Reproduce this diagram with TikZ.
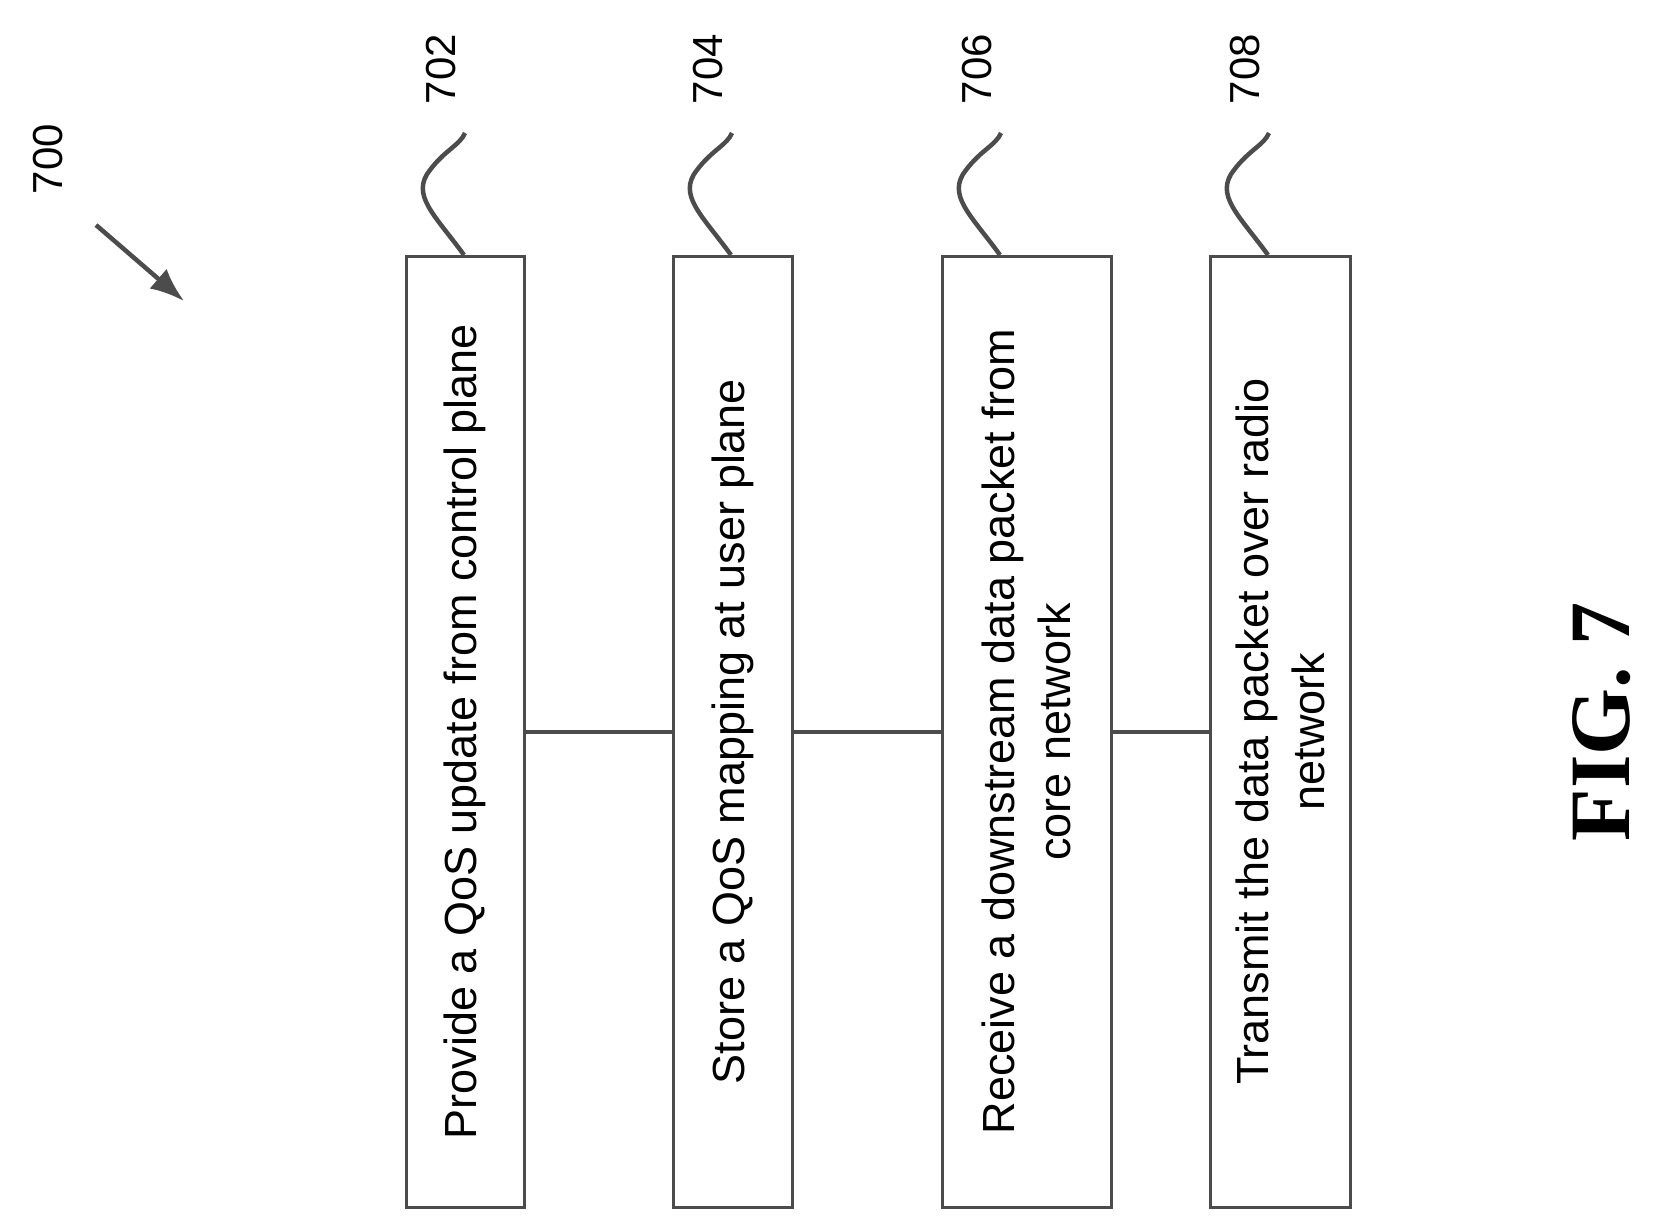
\documentclass[tikz,border=0pt]{standalone}
\usepackage{fontspec}
\usetikzlibrary{arrows.meta}
\setmainfont{Liberation Sans}
\newfontfamily\figfont{Liberation Serif}
\begin{document}
\begin{tikzpicture}[x=1pt,y=-1pt,
  box/.style={draw=black!70,line width=2.5pt,minimum width=#1,minimum height=951pt,inner sep=0pt,anchor=north west},
  txt/.style={rotate=90,font=\fontsize{45}{56}\selectfont,align=center},
  conn/.style={draw=black!70,line width=4.5pt},
  lbl/.style={rotate=90,font=\fontsize{42}{46}\selectfont}]
\useasboundingbox (0,0) rectangle (1657,1224);
\foreach \n/\xl/\w/\lab in {a/405/118/702,b/672/119/704,c/941/169/706,d/1209/140/708}{
  \node[box=\w] (\n) at (\xl,255) {};
  \coordinate (\n s) at (\xl+59,255);
  \coordinate (\n e) at (\xl+60,133);
  \draw[conn] (\n s) .. controls (\xl+30,215) and (\xl+5,195) .. (\xl+25,170) .. controls (\xl+40,150) and (\xl+55,145) .. (\n e);
  \node[lbl] (\n l) at (\xl+36,69) {\lab};
}
\node[txt] at (a.center) {Provide a QoS update from control plane};
\node[txt] at (b.center) {Store a QoS mapping at user plane};
\node[txt] at (c.center) {Receive a downstream data packet from\\core network};
\node[txt] at (d.center) {Transmit the data packet over radio\\network};
\draw[conn] (a.east) -- (b.west);
\draw[conn] (b.east) -- (c.west);
\draw[conn] (c.east) -- (d.west);
\node[lbl] (n700) at (48,159) {700};
\coordinate (arrs) at (96,225);
\coordinate (arre) at (184,301);
\draw[conn,-{Latex[length=34pt,width=26pt]}] (arrs) -- (arre);
\node[rotate=90,font=\figfont\bfseries\fontsize{86}{94}\selectfont] (fig) at (1602,722) {FIG. 7};
\end{tikzpicture}
\end{document}
